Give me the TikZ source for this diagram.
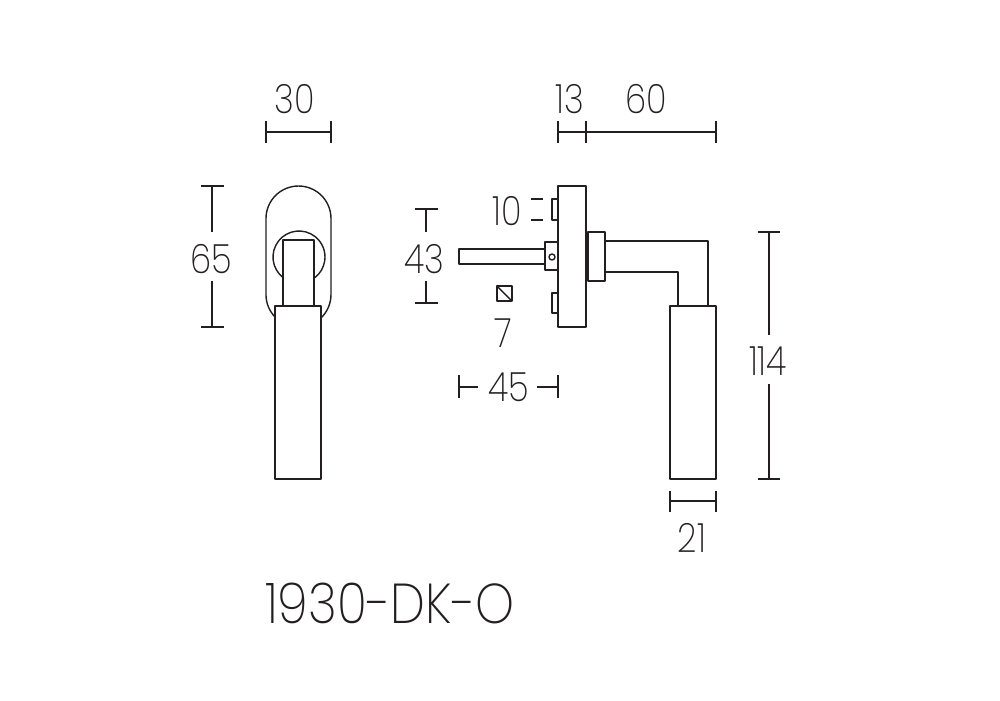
\documentclass[tikz,border=0pt]{standalone}
\usepackage{fontspec}
\newfontfamily\dimfont[FakeStretch=0.84]{Poppins ExtraLight}
\newfontfamily\typefont[FakeStretch=0.88]{Poppins ExtraLight}
\definecolor{handleink}{RGB}{35,31,32}
\tikzset{
	part/.style={draw=handleink,line width=0.4pt,line join=round},
	dimline/.style={draw=handleink,line width=0.3pt},
	dimlabel/.style={text=handleink,font=\dimfont\fontsize{11.5}{12}\selectfont,inner sep=0pt},
	typelabel/.style={text=handleink,font=\typefont\fontsize{16}{18}\selectfont,inner sep=0pt}
}
\begin{document}
\begin{tikzpicture}[x=0.1mm,y=-0.1mm]
	\useasboundingbox (0,0) rectangle (1000,700);
	%% front view
	\draw[part] (275.5,317.5) arc (135:180:32.5) -- (266,218.5) arc (180:360:32.5) -- (331,294.5) arc (0:45:32.5);
	\draw[part] (283,277.5) arc (128:412:26);
	\draw[part] (283,306) -- (283,240) -- (314,240) -- (314,306);
	\draw[part] (275,479) rectangle (321,306);
	% width
	\draw[dimline] (266,121) -- (266,143);
	\draw[dimline] (331,121) -- (331,143);
	\draw[dimline] (266,132) -- (331,132);
	\node[dimlabel] (w30) at (295,99) {30};
	% height
	\draw[dimline] (201,186) -- (224,186);
	\draw[dimline] (201,327) -- (224,327);
	\draw[dimline] (212,186) -- (212,232);
	\draw[dimline] (212,281) -- (212,327);
	\node[dimlabel] (h65) at (211,259) {65};
	%% side view
	\draw[part] (558,186) rectangle (586,327);
	\draw[part] (558,199) -- (552,199) -- (552,220) -- (558,220);
	\draw[part] (558,293) -- (552,293) -- (552,313) -- (558,313);
	\draw[part] (545,249) -- (459,249) -- (459,264) -- (545,264);
	\draw[part] (558,242) -- (545,242) -- (545,270) -- (558,270);
	\draw[part] (552,257) circle (3);
	\draw[part] (588,232) rectangle (605,281);
	\draw[part] (586,237) -- (588,237);
	\draw[part] (586,277) -- (588,277);
	\draw[part] (605,241) -- (708,241) -- (708,306);
	\draw[part] (605,272) -- (678,272) -- (678,306);
	\draw[part] (670,306) rectangle (716,479);
	\draw[part] (497,286) rectangle (512,301);
	\draw[part] (497,286) -- (512,301);
	% top dimensions
	\foreach \x in {558,586,716}
		\draw[dimline] (\x,121) -- (\x,143);
	\draw[dimline] (558,132) -- (716,132);
	\node[dimlabel] (w13) at (570,99) {13};
	\node[dimlabel] (w60) at (646,99) {60};
	% small dimensions
	\draw[dimline] (531,199) -- (543,199);
	\draw[dimline] (531,220) -- (543,220);
	\node[dimlabel] (h10) at (507,211) {10};
	\draw[dimline] (415,209) -- (438,209);
	\draw[dimline] (415,303) -- (438,303);
	\draw[dimline] (426,209) -- (426,232);
	\draw[dimline] (426,281) -- (426,303);
	\node[dimlabel] (h43) at (424,259) {43};
	\node[dimlabel] (s7) at (503,333) {7};
	\draw[dimline] (459,375) -- (459,398);
	\draw[dimline] (558,375) -- (558,398);
	\draw[dimline] (459,387) -- (478,387);
	\draw[dimline] (537,387) -- (558,387);
	\node[dimlabel] (d45) at (509,387) {45};
	% handle dimensions
	\draw[dimline] (758,232) -- (780,232);
	\draw[dimline] (758,479) -- (780,479);
	\draw[dimline] (769,232) -- (769,335);
	\draw[dimline] (769,384) -- (769,479);
	\node[dimlabel] (h114) at (768,361) {114};
	\draw[dimline] (670,491) -- (670,512);
	\draw[dimline] (716,491) -- (716,512);
	\draw[dimline] (670,501) -- (716,501);
	\node[dimlabel] (w21) at (692,538) {21};
	\node[typelabel] (type) at (390,603) {1930-DK-O};
\end{tikzpicture}
\end{document}
